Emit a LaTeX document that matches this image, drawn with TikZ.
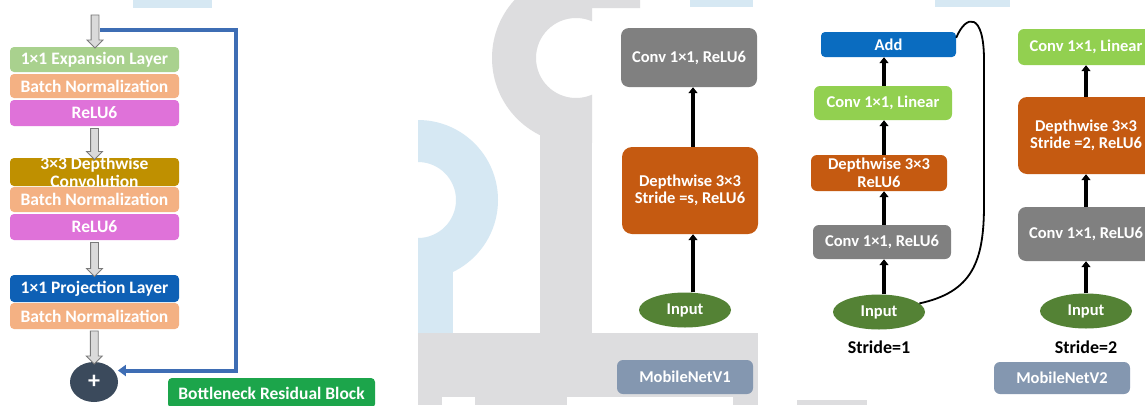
\documentclass[tikz,border=0pt]{standalone}
\usepackage{fontspec}
\setmainfont{Carlito}
\usetikzlibrary{arrows.meta,shapes.geometric,shapes.arrows,calc}
\definecolor{expgreen}{HTML}{A9D18E}
\definecolor{peach}{HTML}{F4B183}
\definecolor{magen}{HTML}{DF72D9}
\definecolor{mustard}{HTML}{BF9000}
\definecolor{projblue}{HTML}{0E60B5}
\definecolor{plusdark}{HTML}{3B4A5C}
\definecolor{bngreen}{HTML}{1CA54B}
\definecolor{midgray}{HTML}{808080}
\definecolor{burnt}{HTML}{C55A11}
\definecolor{lime}{HTML}{92D050}
\definecolor{ingreen}{HTML}{548235}
\definecolor{addblue}{HTML}{0A6CC0}
\definecolor{slate}{HTML}{8497B0}
\definecolor{skipblue}{HTML}{3E6DB4}
\definecolor{wmgray}{HTML}{DDDDDF}
\definecolor{wmblue}{HTML}{D6E8F3}
\definecolor{harrowfill}{HTML}{DADADA}
\definecolor{harrowline}{HTML}{7A7A7A}
\begin{document}
\begin{tikzpicture}[x=1pt,y=-1pt,
  lbox/.style={rectangle, rounded corners=4pt, minimum width=169pt, inner sep=0pt,
    text=white, font=\fontsize{17.5}{18}\selectfont\bfseries},
  pbox/.style={rectangle, rounded corners=6pt, inner sep=0pt, align=center,
    text=white, font=\fontsize{16.5}{17.5}\selectfont\bfseries},
  inell/.style={ellipse, fill=ingreen, minimum width=92pt, minimum height=35pt, inner sep=0pt,
    text=white, font=\fontsize{16.5}{17}\selectfont\bfseries},
  lbl/.style={text=white, align=center, font=\fontsize{17.5}{18}\selectfont\bfseries, inner sep=0pt},
  harrow/.style={single arrow, fill=harrowfill, draw=harrowline, line width=0.8pt,
    shape border rotate=270, single arrow head extend=4pt, inner sep=3.5pt,
    single arrow head indent=0pt},
  barrow/.style={line width=3.6pt, -{Triangle[length=6pt,width=9pt]}},
  skipline/.style={draw=skipblue, line width=4pt, -{Triangle[length=8pt,width=11pt]}},
  stridelbl/.style={font=\fontsize{18}{19}\selectfont\bfseries, text=black}
]
\useasboundingbox (0,0) rectangle (1145,405);
\fill[white] (0,0) rectangle (1145,405);

% ---------- watermark ----------
\begin{scope}
  \clip (418,0) rectangle (600,405);
  \fill[wmblue, even odd rule] (418,200) circle (80) (418,200) circle (38);
\end{scope}
\fill[wmblue] (418,240) rectangle (453,333);
\begin{scope}
  \clip (0,0) rectangle (592,405) (592,0) rectangle (640,8);
  \fill[wmgray, even odd rule] (578,58) circle (86) (576,58) circle (40);
\end{scope}
\fill[wmgray] (540,100) rectangle (592,333);
\fill[wmgray] (418,333) rectangle (758,397);
\fill[wmgray] (418,397) rectangle (442,405);
\fill[wmgray] (475,397) rectangle (567,405);
\fill[wmgray] (733,397) rectangle (758,405);
\fill[wmgray] (797,400) rectangle (867,405);
\fill[wmblue] (133,0) rectangle (212,8);
\fill[wmblue] (690,0) rectangle (753,7);
\fill[wmblue] (935,0) rectangle (1010,7);

% ---------- left: bottleneck residual block ----------
\node[lbox, fill=expgreen, minimum height=25pt] (b1) at (94.5,59.5) {1×1 Expansion Layer};
\node[lbox, fill=peach, minimum height=24pt] (b2) at (94.5,86) {Batch Normalization};
\node[lbox, fill=magen, minimum height=26pt] (b3) at (94.5,113) {ReLU6};
\node[lbox, fill=mustard, minimum height=28pt,
  label={[lbl]center:3×3 Depthwise\\Convolution}] (b4) at (94.5,172) {};
\node[lbox, fill=peach, minimum height=25pt] (b5) at (94.5,199.5) {Batch Normalization};
\node[lbox, fill=magen, minimum height=26pt] (b6) at (94.5,227) {ReLU6};
\node[lbox, fill=projblue, minimum height=27pt] (b7) at (94.5,288.5) {1×1 Projection Layer};
\node[lbox, fill=peach, minimum height=26pt] (b8) at (94.5,316) {Batch Normalization};
\node[ellipse, fill=plusdark, minimum width=48pt, minimum height=40pt, inner sep=0pt,
  text=white, font=\fontsize{24}{24}\selectfont\bfseries] (plus) at (94,382) {+};
\node[rectangle, rounded corners=4pt, fill=bngreen, minimum width=207pt, minimum height=30pt,
  inner sep=0pt, text=white, font=\fontsize{17.5}{18}\selectfont\bfseries] (bnlabel) at (271.5,393)
  {Bottleneck Residual Block};

\coordinate (skip) at (100,30);
\node[harrow, minimum height=33pt] (a1) at (95,29.5) {};
\path (b3.south) -- (b4.north) node[harrow, midway, minimum height=31pt] (a2) {};
\path (b6.south) -- (b7.north) node[harrow, midway, minimum height=34pt] (a3) {};
\path (b8.south) -- (plus.north) node[harrow, midway, minimum height=33pt] (a4) {};
\draw[skipline] (skip) -- ++(136,0) |- ([xshift=4pt]plus.30);

% ---------- MobileNetV1 ----------
\node[pbox, fill=midgray, rounded corners=8pt, minimum width=136pt, minimum height=59pt] (c1) at (689,57.5) {Conv 1×1, ReLU6};
\node[pbox, fill=burnt, rounded corners=10pt, minimum width=136pt, minimum height=87pt] (d1) at (690,190.5) {Depthwise 3×3\\Stride =s, ReLU6};
\node[inell] (in1) at (685,310) {Input};
\node[pbox, fill=slate, minimum width=136pt, minimum height=34pt] (v1) at (685,377) {MobileNetV1};
\coordinate (ax1) at (693,0);
\draw[barrow] (in1.north -| ax1) -- (d1.south -| ax1);
\draw[barrow] (d1.north -| ax1) -- (c1.south -| ax1);

% ---------- MobileNetV2, stride 1 ----------
\node[pbox, fill=addblue, rounded corners=4pt, minimum width=135pt, minimum height=25pt] (add) at (888.5,44.5) {Add};
\node[pbox, fill=lime, minimum width=138pt, minimum height=34pt] (cl2) at (883,103) {Conv 1×1, Linear};
\node[pbox, fill=burnt, minimum width=136pt, minimum height=36pt] (dw2) at (879,173) {Depthwise 3×3\\ReLU6};
\node[pbox, fill=midgray, minimum width=138pt, minimum height=34pt] (cr2) at (882,242) {Conv 1×1, ReLU6};
\node[inell] (in2) at (879,312) {Input};
\node[stridelbl] (s1) at (879,347) {Stride=1};
\coordinate (ax2) at (884,0);
\draw[barrow] (in2.north -| ax2) -- (cr2.south -| ax2);
\draw[barrow] (cr2.north -| ax2) -- (dw2.south -| ax2);
\draw[barrow] (dw2.north -| ax2) -- (cl2.south -| ax2);
\draw[barrow] (cl2.north -| ax2) -- (add.south -| ax2);
\draw[line width=1.8pt] (in2.12) .. controls (972,292) and (984,262) .. (984,205)
  -- (984,60) .. controls (984,12) and (966,14) .. ([yshift=-6pt]add.north east);

% ---------- MobileNetV2, stride 2 ----------
\node[pbox, fill=lime, minimum width=136pt, minimum height=36pt] (cl3) at (1086,47) {Conv 1×1, Linear};
\node[pbox, fill=burnt, rounded corners=9pt, minimum width=136pt, minimum height=77pt] (dw3) at (1086,135.5) {Depthwise 3×3\\Stride =2, ReLU6};
\node[pbox, fill=midgray, rounded corners=8pt, minimum width=136pt, minimum height=54pt] (cr3) at (1086,234) {Conv 1×1, ReLU6};
\node[inell] (in3) at (1086,311) {Input};
\node[stridelbl] (s2) at (1086,347) {Stride=2};
\node[pbox, fill=slate, minimum width=136pt, minimum height=32pt] (v2) at (1062,378) {MobileNetV2};
\draw[barrow] (in3.north) -- (cr3.south);
\draw[barrow] (cr3.north) -- (dw3.south);
\draw[barrow] (dw3.north) -- (cl3.south);
\end{tikzpicture}
\end{document}
